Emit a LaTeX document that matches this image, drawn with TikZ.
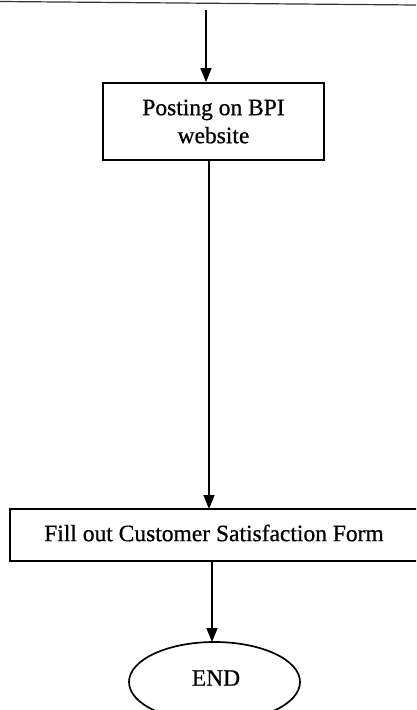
\documentclass[tikz,border=0pt]{standalone}
\usepackage{fontspec}
\setmainfont{Liberation Serif}[FakeBold=0.7,AutoFakeBold=0.7]
\usetikzlibrary{arrows.meta,shapes.geometric}
\begin{document}
\begin{tikzpicture}[x=1pt,y=-1pt,
  box/.style={draw,line width=1.7pt,rectangle,inner sep=0pt,align=center,font=\fontsize{23.5}{28}\selectfont},
  lbl/.style={font=\fontsize{23.5}{28}\selectfont,inner sep=0pt},
  endshape/.style={draw,line width=1.7pt,ellipse,inner sep=0pt},
  conn/.style={line width=1.5pt,-{Triangle[length=14pt,width=11pt]}}]
\useasboundingbox (0,0) rectangle (416,710);
\clip (0,0) rectangle (416,710);
\fill[white] (0,0) rectangle (416,710);
\draw[line width=1.2pt,black!80] (0,1.5) -- (416,5);
\coordinate (top) at (206,10);
\node[box,minimum width=221pt,minimum height=77pt] (post) at (213.5,121.5) {Posting on BPI\\website};
\node[box,minimum width=410pt,minimum height=52pt,anchor=west] (form) at (9,535) {};
\node[lbl] (formtxt) at (214,533) {Fill out Customer Satisfaction Form};
\node[endshape,minimum width=171pt,minimum height=80pt] (end) at (214.5,682) {};
\node[lbl] (endtxt) at (216,678) {END};
\draw[conn] (top) -- (top |- post.north);
\draw[conn] (post.south -| 209,0) -- (209,509);
\draw[conn] (212,561) -- (212,642);
\end{tikzpicture}
\end{document}
